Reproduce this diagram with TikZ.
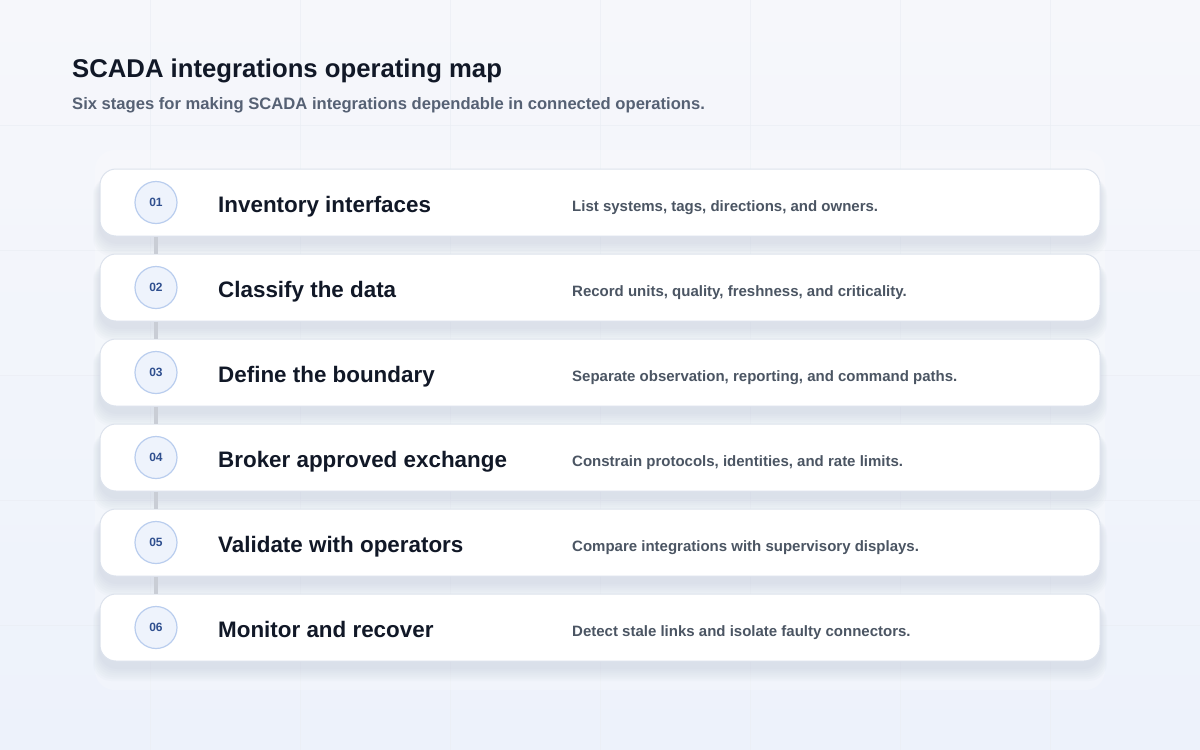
\documentclass[tikz,border=0pt]{standalone}
\usepackage{fontspec}
\setmainfont{Liberation Sans}
\usetikzlibrary{positioning}
\definecolor{bgtop}{HTML}{F6F7FB}
\definecolor{bgbot}{HTML}{EDF2FB}
\definecolor{gridc}{HTML}{EBEEF4}
\definecolor{cardline}{HTML}{DCE2EC}
\definecolor{titlec}{HTML}{111827}
\definecolor{subc}{HTML}{566174}
\definecolor{descc}{HTML}{4B5563}
\definecolor{circfill}{HTML}{EEF3FC}
\definecolor{circline}{HTML}{B9CDEE}
\definecolor{numc}{HTML}{2F4F8F}
\definecolor{linkc}{HTML}{C9CDD5}
\definecolor{shadc}{HTML}{8B97B5}
\tikzset{
  card/.style={draw=cardline, line width=1pt, fill=white, rounded corners=16pt, minimum width=1000pt, minimum height=67pt, inner sep=0pt},
  numcirc/.style={circle, draw=circline, line width=1.2pt, fill=circfill, minimum size=42pt, inner sep=0pt, text=numc, font=\fontsize{12}{14}\selectfont\bfseries},
  stagetitle/.style={anchor=base west, text=titlec, font=\fontsize{22.4}{26}\selectfont\bfseries, inner sep=0pt},
  stagedesc/.style={anchor=base west, text=descc, font=\fontsize{15}{18}\selectfont\bfseries, inner sep=0pt},
  link/.style={draw=linkc, line width=4pt},
}
\begin{document}
\begin{tikzpicture}[x=1pt,y=-1pt]
\useasboundingbox (0,0) rectangle (1200,750);
\shade[top color=bgtop, bottom color=bgbot] (0,0) rectangle (1200,750);
% faint grid
\foreach \gx in {150,300,450,600,750,900,1050} \draw[gridc, line width=0.7pt, opacity=0.7] (\gx,0) -- (\gx,750);
\foreach \gy in {125,250,375,500,625} \draw[gridc, line width=0.7pt, opacity=0.7] (0,\gy) -- (1200,\gy);
% panel glow
\fill[white, opacity=0.2, rounded corners=20pt] (95,150) rectangle (1105,690);
% title
\node[anchor=base west, text=titlec, font=\fontsize{25.7}{30}\selectfont\bfseries, inner sep=0pt] (title) at (72,77.5) {SCADA integrations operating map};
\node[anchor=base west, text=subc, font=\fontsize{16.6}{20}\selectfont\bfseries, inner sep=0pt] (subtitle) at (72,109.5) {Six stages for making SCADA integrations dependable in connected operations.};
% shadows
\foreach \i in {0,...,5}{
  \pgfmathsetmacro{\cy}{202.5+85*\i}
  \foreach \k in {1,...,7}{
    \fill[shadc, opacity=0.03, rounded corners=18pt] (100-\k,\cy-33.5+8) rectangle (1100+\k,\cy+33.5+6+2*\k);
  }
}
% cards
\foreach \i/\num/\ttl/\dsc in {
 1/01/Inventory interfaces/{List systems, tags, directions, and owners.},
 2/02/Classify the data/{Record units, quality, freshness, and criticality.},
 3/03/Define the boundary/{Separate observation, reporting, and command paths.},
 4/04/Broker approved exchange/{Constrain protocols, identities, and rate limits.},
 5/05/Validate with operators/{Compare integrations with supervisory displays.},
 6/06/Monitor and recover/{Detect stale links and isolate faulty connectors.}}{
  \pgfmathsetmacro{\cy}{202.5+85*(\i-1)}
  \node[card] (card\i) at (600,\cy) {};
  \node[numcirc] (num\i) at (156,\cy) {\num};
  \node[stagetitle] (ttl\i) at (218,\cy+9.5) {\ttl};
  \node[stagedesc] (dsc\i) at (572,\cy+9) {\dsc};
}
% connectors between cards
\foreach \i/\j in {1/2,2/3,3/4,4/5,5/6}{
  \draw[link] (card\i.south -| num\i) -- (card\j.north -| num\j);
}
\end{tikzpicture}
\end{document}
